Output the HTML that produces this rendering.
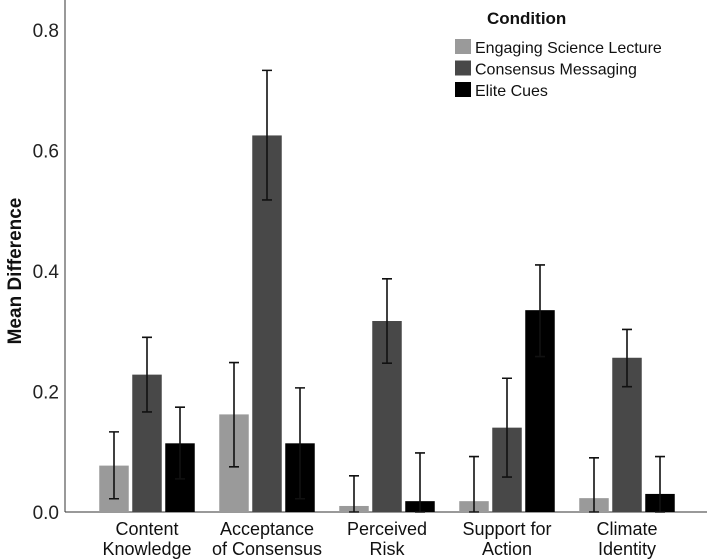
<!DOCTYPE html>
<html><head><meta charset="utf-8"><style>
body{margin:0;background:#fff}
svg{display:block;font-family:"Liberation Sans",Arial,sans-serif}
</style></head><body>
<svg id="chart" width="709" height="560"></svg>
<script>
const categories=[["Content","Knowledge"],["Acceptance","of Consensus"],["Perceived","Risk"],["Support for","Action"],["Climate","Identity"]];
const seriesNames=["Engaging Science Lecture","Consensus Messaging","Elite Cues"];
const lectureVals=[0.077,0.162,0.010,0.018,0.023];
const consensusVals=[0.228,0.625,0.317,0.140,0.256];
const eliteVals=[0.114,0.114,0.018,0.335,0.030];
const lectureLo=[0.022,0.075,0.0,0.0,0.0];
const lectureHi=[0.133,0.248,0.060,0.092,0.090];
const consensusLo=[0.166,0.518,0.247,0.058,0.208];
const consensusHi=[0.290,0.733,0.387,0.222,0.303];
const eliteLo=[0.055,0.022,0.0,0.258,0.0];
const eliteHi=[0.174,0.206,0.098,0.410,0.092];
const yTicks=[0.0,0.2,0.4,0.6,0.8];
const yTickLabels=["0.0","0.2","0.4","0.6","0.8"];

const svg=document.getElementById('chart');
const NS="http://www.w3.org/2000/svg";
const colors=["#9a9a9a","#484848","#000000"];
const vals=[lectureVals,consensusVals,eliteVals];
const los=[lectureLo,consensusLo,eliteLo];
const his=[lectureHi,consensusHi,eliteHi];
const y0=512,yTop=30,x0=65,x1=707;
function y(v){return y0-v*(y0-yTop)/0.8;}
function gx(i){return 147+i*120;}
function mk(t,a,txt){const e=document.createElementNS(NS,t);for(const k in a)e.setAttribute(k,a[k]);if(txt!=null)e.textContent=txt;svg.appendChild(e);return e;}

let ax=mk('line',{x1:x0,y1:0,x2:x0,y2:y0,stroke:'#333','stroke-width':1});


let bx=mk('line',{x1:x0,y1:y0,x2:x1,y2:y0,stroke:'#333','stroke-width':1});



yTicks.forEach((t,i)=>{
  const e=mk('text',{x:x0-6,y:y(t)+7,'text-anchor':'end','font-size':19,fill:'#222'},yTickLabels[i]);
  
  
});
let yt=mk('text',{x:0,y:0,transform:'translate(21,271) rotate(-90)','text-anchor':'middle','font-size':19,'font-weight':'bold',fill:'#111'},'Mean Difference');



const bw=29.5, step=33;
categories.forEach((c,i)=>{
  for(let s=0;s<3;s++){
    const cx=gx(i)+(s-1)*step;
    const v=vals[s][i];
    const r=mk('rect',{x:cx-bw/2,y:y(v),width:bw,height:y0-y(v),fill:colors[s]});
    
    
    const g=mk('path',{d:`M${cx},${y(his[s][i])}V${y(los[s][i])}M${cx-5},${y(his[s][i])}H${cx+5}M${cx-5},${y(los[s][i])}H${cx+5}`,stroke:'#111','stroke-width':1.6,fill:'none'});
    
    
  }
  c.forEach((ln,k)=>{
    const t=mk('text',{x:gx(i),y:535+k*20,'text-anchor':'middle','font-size':18,fill:'#111'},ln);
    
    
  });
});

let lt=mk('text',{x:487,y:24,'font-size':17,'font-weight':'bold',fill:'#111'},'Condition');


seriesNames.forEach((n,s)=>{
  const yy=39+s*21.5;
  const r=mk('rect',{x:455,y:yy,width:16,height:15,fill:colors[s]});
  
  
  const t=mk('text',{x:475,y:yy+14,'font-size':16,fill:'#111'},n);
  
  
});
</script>
</body></html>
